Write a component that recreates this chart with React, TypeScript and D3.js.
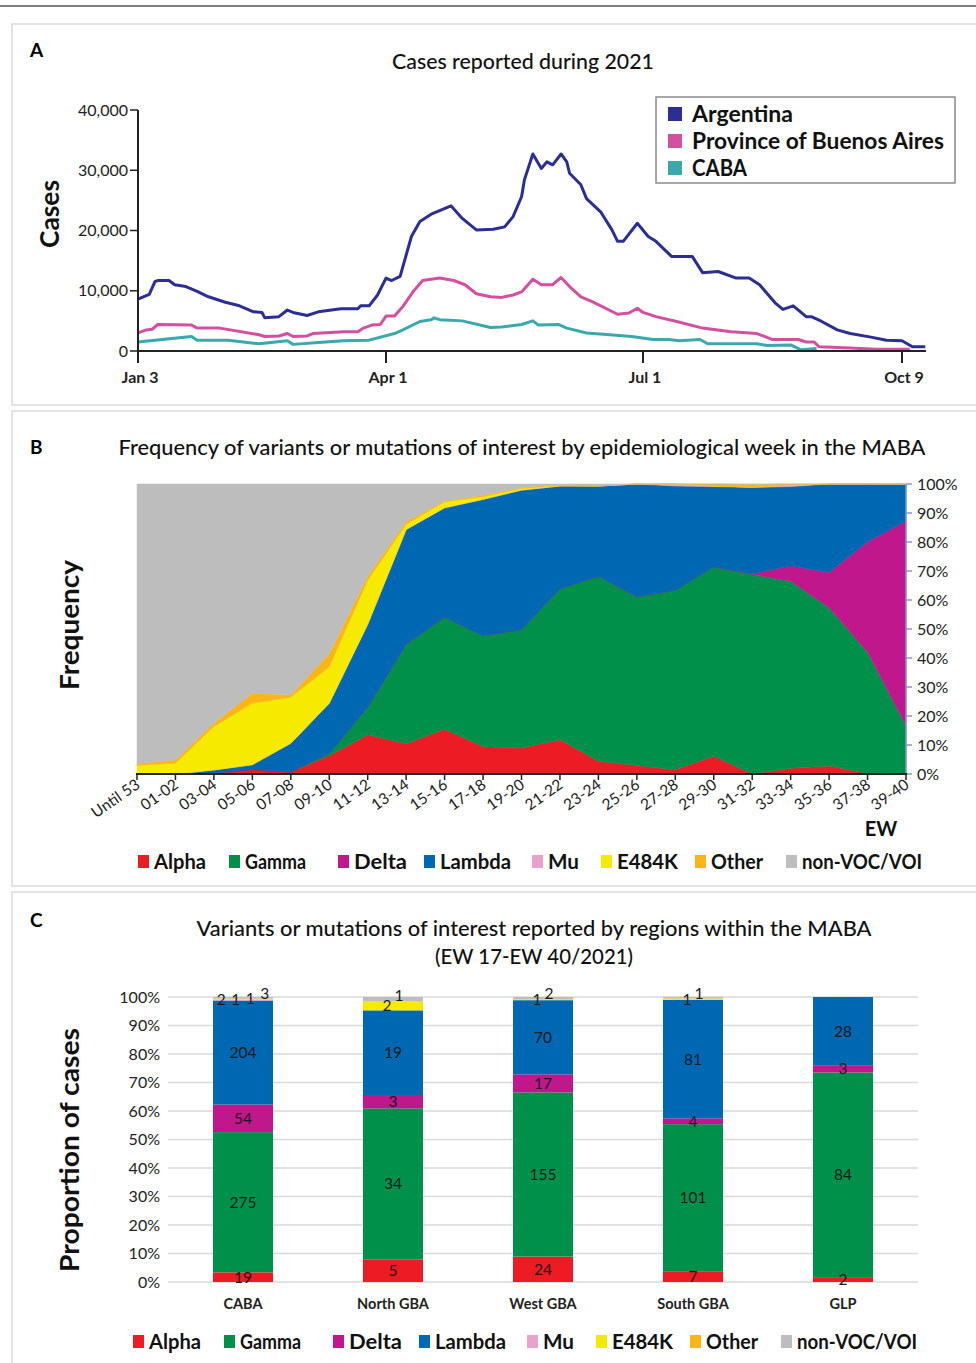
import * as d3 from "d3";
import React from "react";

const FONT = "Lato, 'Open Sans', 'DejaVu Sans', sans-serif";

// ---------- Panel A: cases reported during 2021 (day 0 = Jan 3) ----------
const argDays = [0, 4, 6, 7, 11, 13, 17, 21, 25, 31, 36, 41, 44, 45, 50, 53, 55, 60, 64, 72, 78, 79, 82, 85, 88, 90, 93, 97, 100, 104, 107, 111, 115, 120, 126, 130, 133, 136, 137, 140, 143, 145, 147, 150, 152, 153, 157, 159, 164, 168, 170, 172, 177, 181, 184, 190, 198, 202, 208, 215, 220, 224, 230, 233, 237, 242, 244, 248, 254, 259, 267, 273, 279, 283, 288];
const argCases = [8600, 9400, 11500, 11700, 11700, 11000, 10700, 9900, 9000, 8100, 7500, 6500, 6400, 5500, 5700, 6800, 6400, 5900, 6500, 7000, 7000, 7500, 7500, 9300, 12100, 11700, 12400, 19000, 21500, 22700, 23300, 24100, 22000, 20100, 20200, 20600, 22300, 25600, 28400, 32700, 30300, 31400, 30900, 32700, 31400, 29500, 27600, 25300, 23100, 20100, 18200, 18200, 21200, 19000, 18200, 15700, 15700, 13000, 13200, 12100, 12100, 11000, 8000, 6900, 7500, 5700, 5700, 4900, 3500, 2900, 2300, 1800, 1700, 700, 700];

const pbaDays = [0, 3, 5, 7, 19, 21, 29, 43, 45, 50, 53, 55, 60, 62, 73, 78, 80, 83, 86, 88, 91, 94, 98, 101, 107, 112, 116, 120, 125, 129, 133, 136, 140, 143, 147, 150, 153, 157, 161, 170, 174, 177, 179, 184, 192, 202, 213, 223, 229, 239, 242, 245, 247, 259, 269, 282];
const pbaCases = [3000, 3500, 3600, 4400, 4300, 3800, 3800, 2700, 2400, 2500, 2900, 2400, 2500, 2900, 3200, 3200, 3800, 4300, 4400, 5800, 5800, 7400, 10100, 11700, 12100, 11700, 11000, 9500, 9000, 8900, 9300, 9800, 11900, 11000, 11000, 12200, 10700, 9000, 8200, 6100, 6300, 7100, 6400, 5700, 4900, 3800, 3200, 2900, 1900, 1900, 1500, 1500, 700, 500, 300, 300];

const cabaDays = [0, 19, 21, 32, 43, 53, 55, 64, 73, 82, 91, 94, 100, 104, 105, 107, 115, 125, 129, 136, 140, 142, 149, 152, 159, 165, 175, 183, 189, 193, 201, 204, 223, 227, 236, 240, 246];
const cabaCases = [1500, 2400, 1800, 1800, 1200, 1700, 1100, 1400, 1700, 1800, 2900, 3500, 4900, 5200, 5500, 5200, 5000, 3900, 4000, 4400, 5000, 4300, 4400, 3800, 3000, 2800, 2400, 1900, 1900, 1700, 1900, 1200, 1200, 900, 1000, 200, 400];

const dateTickDays = [0, 88, 179, 279];
const dateTickLabels = ["Jan 3", "Apr 1", "Jul 1", "Oct 9"];
const caseTicks = [0, 10000, 20000, 30000, 40000];

// ---------- Panel B: frequency by epidemiological week (%) ----------
const weeks = ["Until 53", "01-02", "03-04", "05-06", "07-08", "09-10", "11-12", "13-14", "15-16", "17-18", "19-20", "21-22", "23-24", "25-26", "27-28", "29-30", "31-32", "33-34", "35-36", "37-38", "39-40"];
const freqAlpha = [0, 0, 0.3, 1.6, 0.7, 6.3, 13.5, 10.4, 15.4, 9.4, 9.0, 11.8, 4.4, 2.9, 1.5, 6.1, 0, 2.0, 2.8, 0.2, 0];
const freqGamma = [0, 0, 0, 0, 0, 0.8, 9.5, 34.3, 38.7, 38.3, 40.8, 52.1, 63.8, 58.2, 61.9, 65.3, 68.8, 64.5, 54.5, 41.9, 16.7];
const freqDelta = [0, 0, 0, 0, 0, 0, 0, 0, 0, 0, 0, 0, 0, 0, 0, 0, 0.2, 5.3, 12.2, 38.0, 70.5];
const freqLambda = [0, 0, 1.1, 1.6, 9.9, 17.3, 28.6, 39.6, 37.7, 47.0, 48.1, 35.4, 31.1, 38.9, 35.9, 27.7, 29.8, 27.3, 30.5, 19.9, 12.8];
const freqMu = [0, 0, 0, 0, 0, 0, 0, 0, 0, 0, 0, 0, 0, 0, 0.7, 0.2, 0.2, 0.5, 0, 0, 0];
const freqE484K = [3.0, 3.7, 15.0, 21.2, 15.9, 12.5, 15.2, 1.8, 2.1, 0.9, 0.6, 0.2, 0, 0, 0, 0, 0, 0, 0, 0, 0];
const freqOther = [0.5, 1.1, 1.1, 3.5, 0.7, 4.6, 1.4, 0.9, 0.2, 0.5, 0.2, 0.3, 0.2, 0, 0, 0.7, 0.9, 0.4, 0, 0, 0];
const freqNonVoc = [96.5, 95.2, 82.5, 72.1, 72.8, 58.5, 31.8, 13.0, 5.9, 3.9, 1.3, 0.2, 0.5, 0, 0, 0, 0.1, 0, 0, 0, 0];

// ---------- Panel C: counts by region (EW 17 - EW 40) ----------
const regions = ["CABA", "North GBA", "West GBA", "South GBA", "GLP"];
const regAlpha = [19, 5, 24, 7, 2];
const regGamma = [275, 34, 155, 101, 84];
const regDelta = [54, 3, 17, 4, 3];
const regLambda = [204, 19, 70, 81, 28];
const regMu = [2, 0, 0, 0, 0];
const regE484K = [1, 2, 1, 1, 0];
const regOther = [1, 0, 0, 0, 0];
const regNonVoc = [3, 1, 2, 1, 0];

const variants = ["Alpha", "Gamma", "Delta", "Lambda", "Mu", "E484K", "Other", "non-VOC/VOI"];
const variantColors = ["#ed1c24", "#00904a", "#c0188c", "#0067b3", "#e7a2cd", "#f6ea00", "#fbb615", "#bdbdbd"];
const color = d3.scaleOrdinal<string, string>().domain(variants).range(variantColors);

// legend layout (square offsets and label widths)
const legendOffsets = [0, 91, 200, 286, 394, 463, 557, 648];
const legendWidths = [52, 61, 53, 71, 31, 61, 52, 120];

function Legend({ x0, y }: { x0: number; y: number }) {
  return (
    <g>
      {variants.map((v, i) => (
        <g key={v} transform={`translate(${x0 + legendOffsets[i]},${y})`}>
          <rect x={0} y={-7} width={11} height={13} fill={color(v)} />
          <text
            x={16}
            y={0}
            dy="0.35em"
            fontSize={20}
            fontWeight={700}
            fill="#111"
            textLength={legendWidths[i]}
            lengthAdjust="spacingAndGlyphs"
          >
            {v}
          </text>
        </g>
      ))}
    </g>
  );
}

function PanelA() {
  const x = d3.scaleLinear().domain(dateTickDays).range([138, 386, 643, 902]);
  const y = d3.scaleLinear().domain([0, 40000]).range([351, 110]);
  const line = d3
    .line<[number, number]>()
    .x((d) => x(d[0]))
    .y((d) => y(d[1]));
  const series = [
    { name: "CABA", color: "#39a9ae", w: 55, pts: d3.zip(cabaDays, cabaCases) as [number, number][] },
    { name: "Province of Buenos Aires", color: "#d34fa0", w: 252, pts: d3.zip(pbaDays, pbaCases) as [number, number][] },
    { name: "Argentina", color: "#2b2e92", w: 101, pts: d3.zip(argDays, argCases) as [number, number][] },
  ];
  const legendOrder = [series[2], series[1], series[0]];
  const fmt = d3.format(",");
  return (
    <g>
      <rect x={12} y={24} width={990} height={381} fill="none" stroke="#d9d9d9" strokeWidth={1.5} />
      <text x={30} y={57} fontSize={19} fontWeight={700}>A</text>
      <text x={523} y={69} fontSize={22} fontWeight={500} textAnchor="middle" textLength={262} lengthAdjust="spacingAndGlyphs" fill="#111">
        Cases reported during 2021
      </text>
      <text transform="translate(59,214) rotate(-90)" textAnchor="middle" fontSize={26} fontWeight={700} fill="#111" textLength={68} lengthAdjust="spacingAndGlyphs">
        Cases
      </text>
      {series.map((s) => (
        <path key={s.name} d={line(s.pts) || ""} fill="none" stroke={s.color} strokeWidth={3} strokeLinejoin="round" />
      ))}
      <line x1={138} x2={138} y1={110} y2={351} stroke="#222" strokeWidth={2} />
      {caseTicks.map((t) => (
        <g key={t}>
          <line x1={130} x2={138} y1={y(t)} y2={y(t)} stroke="#222" strokeWidth={1.5} />
          <text x={128} y={y(t)} dy="0.35em" textAnchor="end" fontSize={16} fill="#222">
            {fmt(t)}
          </text>
        </g>
      ))}
      <line x1={137} x2={926} y1={351} y2={351} stroke="#222" strokeWidth={2} />
      {dateTickDays.map((d, i) => (
        <g key={d}>
          <line x1={x(d)} x2={x(d)} y1={351} y2={363} stroke="#222" strokeWidth={2} />
          <text x={x(d) + 2} y={383} textAnchor="middle" fontSize={16} fontWeight={700} fill="#222">
            {dateTickLabels[i]}
          </text>
        </g>
      ))}
      <rect x={656} y={97} width={299} height={86} fill="#fff" stroke="#8a8a8a" strokeWidth={1.5} />
      {legendOrder.map((s, i) => (
        <g key={s.name} transform={`translate(668,${114 + i * 27})`}>
          <rect x={0} y={-7} width={14} height={14} fill={s.color} />
          <text x={24} y={0} dy="0.36em" fontSize={22} fontWeight={700} fill="#111" textLength={s.w} lengthAdjust="spacingAndGlyphs">
            {s.name}
          </text>
        </g>
      ))}
    </g>
  );
}

function PanelB() {
  const x = d3.scalePoint<string>().domain(weeks).range([137, 906]);
  const y = d3.scaleLinear().domain([0, 1]).range([774, 484]);
  const cols = [freqAlpha, freqGamma, freqDelta, freqLambda, freqMu, freqE484K, freqOther, freqNonVoc];
  const table = weeks.map((w, i) => {
    const row: any = { week: w };
    variants.forEach((v, k) => (row[v] = cols[k][i]));
    return row;
  });
  const stacked = d3.stack<any>().keys(variants).offset(d3.stackOffsetExpand)(table);
  const area = d3
    .area<any>()
    .x((d) => x(d.data.week) as number)
    .y0((d) => y(d[0]))
    .y1((d) => y(d[1]));
  const pctTicks = d3.range(0, 1.01, 0.1);
  const pct = d3.format(".0%");
  return (
    <g>
      <rect x={12} y={411} width={990} height={475} fill="none" stroke="#d9d9d9" strokeWidth={1.5} />
      <text x={30} y={454} fontSize={19} fontWeight={700}>B</text>
      <text x={522} y={455} fontSize={22} fontWeight={500} textAnchor="middle" textLength={807} lengthAdjust="spacingAndGlyphs" fill="#111">
        Frequency of variants or mutations of interest by epidemiological week in the MABA
      </text>
      <text transform="translate(79,625) rotate(-90)" textAnchor="middle" fontSize={27} fontWeight={700} fill="#111" textLength={130} lengthAdjust="spacingAndGlyphs">
        Frequency
      </text>
      {stacked.map((s) => (
        <path key={s.key} d={area(s) || ""} fill={color(s.key)} stroke={color(s.key)} strokeWidth={0.5} />
      ))}
      <line x1={906} x2={906} y1={484} y2={774} stroke="#8796d6" strokeWidth={1.5} />
      {pctTicks.map((t) => (
        <g key={t}>
          <line x1={906} x2={912} y1={y(t)} y2={y(t)} stroke="#8796d6" strokeWidth={1.5} />
          <text x={917} y={y(t)} dy="0.35em" fontSize={16} fill="#222">
            {pct(t)}
          </text>
        </g>
      ))}
      <line x1={136} x2={907} y1={774} y2={774} stroke="#222" strokeWidth={2} />
      {weeks.map((w) => (
        <g key={w}>
          <line x1={x(w)} x2={x(w)} y1={774} y2={780} stroke="#222" strokeWidth={1.5} />
          <text transform={`translate(${(x(w) as number) + 4},${787}) rotate(-35)`} textAnchor="end" fontSize={15.5} fill="#222">
            {w}
          </text>
        </g>
      ))}
      <text x={881} y={829} dy="0.35em" textAnchor="middle" fontSize={20} fontWeight={700} fill="#111">
        EW
      </text>
      <Legend x0={138} y={862} />
    </g>
  );
}

function PanelC() {
  const x = d3.scaleBand<string>().domain(regions).range([168, 918]).paddingInner(0.6).paddingOuter(0.3);
  const y = d3.scaleLinear().domain([0, 1]).range([1282, 997]);
  const cols = [regAlpha, regGamma, regDelta, regLambda, regMu, regE484K, regOther, regNonVoc];
  const table = regions.map((r, i) => {
    const row: any = { region: r };
    variants.forEach((v, k) => (row[v] = cols[k][i]));
    return row;
  });
  const stacked = d3.stack<any>().keys(variants).offset(d3.stackOffsetExpand)(table);
  const pctTicks = d3.range(0, 1.01, 0.1);
  const pct = d3.format(".0%");

  // value labels: main segments centred, small top segments spread across the bar
  const labels: { key: string; x: number; y: number; text: string }[] = [];
  regions.forEach((r, i) => {
    const cx = (x(r) as number) + x.bandwidth() / 2;
    const small: { v: number; mid: number }[] = [];
    stacked.forEach((s, k) => {
      const v = cols[k][i];
      if (!v) return;
      const mid = y((s[i][0] + s[i][1]) / 2);
      if (k >= 4) small.push({ v, mid });
      else labels.push({ key: `${r}-${k}`, x: cx, y: mid, text: String(v) });
    });
    const n = small.length;
    small.forEach((s, k) => {
      labels.push({
        key: `${r}-s${k}`,
        x: cx + (k - (n - 1) / 2) * (n > 2 ? 14.5 : 12),
        y: s.mid - (n > 1 && k === n - 1 ? 4 : 0),
        text: String(s.v),
      });
    });
  });

  return (
    <g>
      <rect x={12} y={892} width={990} height={490} fill="none" stroke="#d9d9d9" strokeWidth={1.5} />
      <text x={30} y={927} fontSize={19} fontWeight={700}>C</text>
      <text x={534} y={936} fontSize={22} fontWeight={500} textAnchor="middle" textLength={675} lengthAdjust="spacingAndGlyphs" fill="#111">
        Variants or mutations of interest reported by regions within the MABA
      </text>
      <text x={534} y={964} fontSize={22} fontWeight={500} textAnchor="middle" textLength={198} lengthAdjust="spacingAndGlyphs" fill="#111">
        (EW 17-EW 40/2021)
      </text>
      <text transform="translate(79,1150) rotate(-90)" textAnchor="middle" fontSize={27} fontWeight={700} fill="#111" textLength={244} lengthAdjust="spacingAndGlyphs">
        Proportion of cases
      </text>
      {pctTicks.map((t) => (
        <g key={t}>
          <line x1={168} x2={918} y1={y(t)} y2={y(t)} stroke="#d9d9d9" strokeWidth={1.5} />
          <text x={160} y={y(t)} dy="0.35em" textAnchor="end" fontSize={16} fill="#222">
            {pct(t)}
          </text>
        </g>
      ))}
      {stacked.map((s) => (
        <g key={s.key} fill={color(s.key)}>
          {s.map((d, i) => (
            <rect
              key={regions[i]}
              x={x(regions[i])}
              y={y(d[1])}
              width={x.bandwidth()}
              height={Math.max(0, y(d[0]) - y(d[1]))}
            />
          ))}
        </g>
      ))}
      {labels.map((l) => (
        <text key={l.key} x={l.x} y={l.y} dy="0.35em" textAnchor="middle" fontSize={15.5} fill="#1a1a1a">
          {l.text}
        </text>
      ))}
      {regions.map((r) => (
        <text key={r} x={(x(r) as number) + x.bandwidth() / 2} y={1309} textAnchor="middle" fontSize={14.5} fontWeight={700} fill="#222">
          {r}
        </text>
      ))}
      <Legend x0={133} y={1342} />
    </g>
  );
}

export default function App() {
  const W = 976;
  const H = 1363;
  return (
    <svg
      width={W}
      height={H}
      fontFamily={FONT}
      style={{ position: "absolute", left: 0, top: 0, background: "#fff" }}
    >
      <rect width={W} height={H} fill="#fff" />
      <line x1={0} x2={W} y1={6} y2={6} stroke="#555" strokeWidth={1.5} />
      <PanelA />
      <PanelB />
      <PanelC />
    </svg>
  );
}
